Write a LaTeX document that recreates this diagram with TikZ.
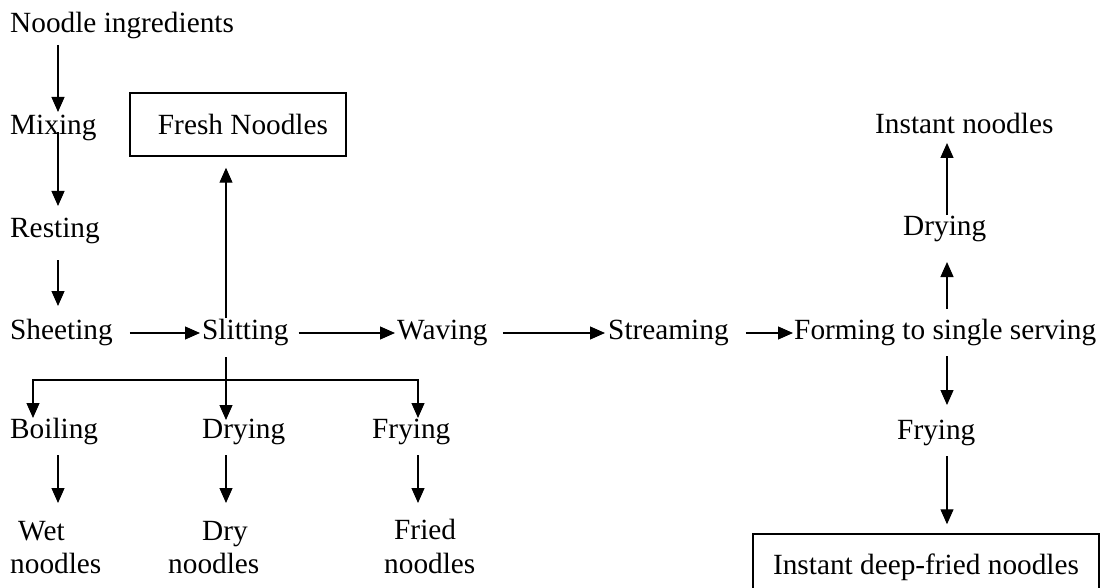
\documentclass[tikz,border=0pt]{standalone}
\usepackage{fontspec}
\setmainfont{Liberation Serif}
\usetikzlibrary{arrows.meta}
\begin{document}
\begin{tikzpicture}[x=1pt,y=-1pt,
  lbl/.style={inner sep=0pt, anchor=base west, font=\fontsize{29.3}{33}\selectfont},
  arr/.style={line width=1.2pt, -{Triangle[length=15pt,width=13pt]}},
  boxed/.style={draw, line width=1.5pt, inner sep=0pt, font=\fontsize{29.3}{33}\selectfont}]
\useasboundingbox (0,0) rectangle (1102,588);
\fill[white] (0,0) rectangle (1102,588);
% column coordinates
\coordinate (xa) at (58,0);
\coordinate (xs) at (226,0);
\coordinate (xf) at (418,0);
\coordinate (xb) at (33,0);
\coordinate (xr) at (947,0);
\coordinate (br) at (226,380);
% nodes
\node[lbl] (ni) at (10,33) {Noodle ingredients};
\node[lbl] (mix) at (10,135) {Mixing};
\node[lbl] (rest) at (10,237) {Resting};
\node[lbl] (sheet) at (10,339) {Sheeting};
\node[lbl] (slit) at (202,339) {Slitting};
\node[lbl] (wav) at (397,339) {Waving};
\node[lbl] (stream) at (608,339) {Streaming};
\node[lbl] (form) at (794,339) {Forming to single serving};
\node[lbl] (dryr) at (903,235) {Drying};
\node[lbl] (inst) at (875,134) {Instant noodles};
\node[lbl] (fryr) at (897,439) {Frying};
\node[boxed, minimum width=346pt, minimum height=60pt, text height=26pt, text depth=6pt] (deep) at (926,564) {Instant deep-fried noodles};
\node[boxed, minimum width=216pt, minimum height=63pt, text height=27pt, text depth=6pt] (fresh) at (238,124.5) {\hspace{10pt}Fresh Noodles};
\node[lbl] (boil) at (10,438) {Boiling};
\node[lbl] (drym) at (202,438) {Drying};
\node[lbl] (frym) at (372,438) {Frying};
\node[lbl] (wet) at (18,540) {Wet};
\node[lbl] (wetn) at (10,573) {noodles};
\node[lbl] (dry) at (202,540) {Dry};
\node[lbl] (dryn) at (168,573) {noodles};
\node[lbl] (fried) at (394,539) {Fried};
\node[lbl] (friedn) at (384,573) {noodles};
% left column
\draw[arr] ([yshift=-12pt]ni.base -| xa) -- ([yshift=23pt]mix.base -| xa);
\draw[arr] ([yshift=3pt]mix.base -| xa) -- ([yshift=31pt]rest.base -| xa);
\draw[arr] ([yshift=-23pt]rest.base -| xa) -- ([yshift=33pt]sheet.base -| xa);
% main row
\draw[arr] ([xshift=17pt,yshift=6pt]sheet.base east) -- ([xshift=-2pt,yshift=6pt]slit.base west);
\draw[arr] ([xshift=10pt,yshift=6pt]slit.base east) -- ([xshift=-2pt,yshift=6pt]wav.base west);
\draw[arr] ([xshift=15pt,yshift=6pt]wav.base east) -- ([xshift=-3pt,yshift=6pt]stream.base west);
\draw[arr] ([xshift=17pt,yshift=6pt]stream.base east) -- ([xshift=-1pt,yshift=6pt]form.base west);
% slitting branches
\draw[arr] ([yshift=21pt]slit.base -| xs) -- ([yshift=-11pt]fresh.south -| xs);
\draw[arr] ([yshift=-18pt]slit.base -| xs) -- ([yshift=18pt]drym.base -| xs);
\draw[arr] (br) -| ([yshift=20pt]boil.base -| xb);
\draw[arr] (br) -| ([yshift=20pt]frym.base -| xf);
% lower arrows
\draw[arr] ([yshift=-17pt]boil.base -| xa) -- ([yshift=37pt]wet.base -| xa);
\draw[arr] ([yshift=-17pt]drym.base -| xs) -- ([yshift=37pt]dry.base -| xs);
\draw[arr] ([yshift=-17pt]frym.base -| xf) -- ([yshift=36pt]fried.base -| xf);
% right column
\draw[arr] ([yshift=30pt]form.base -| xr) -- ([yshift=-27pt]dryr.base -| xr);
\draw[arr] ([yshift=20pt]dryr.base -| xr) -- ([yshift=-9pt]inst.base -| xr);
\draw[arr] ([yshift=-17pt]form.base -| xr) -- ([yshift=34pt]fryr.base -| xr);
\draw[arr] ([yshift=-17pt]fryr.base -| xr) -- ([yshift=9pt]deep.north -| xr);
\end{tikzpicture}
\end{document}
